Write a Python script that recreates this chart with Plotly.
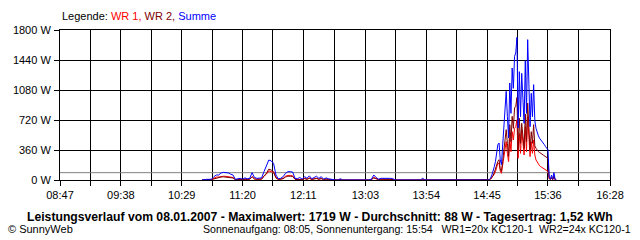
import plotly.graph_objects as go

# ---------------- data ----------------
times = [
    "10:46","10:48","10:50","10:52","10:54","10:56","10:58","11:00","11:02","11:04",
    "11:06","11:08","11:10","11:12","11:14","11:16","11:18","11:20","11:22","11:24",
    "11:26","11:28","11:30","11:32","11:34","11:36","11:38","11:40","11:42","11:44",
    "11:46","11:48","11:50","11:52","11:54","11:56","11:58","12:00","12:02","12:04",
    "12:06","12:08","12:10","12:12","12:14","12:16","12:18","12:20","12:22","12:24",
    "12:26","12:28","12:30","12:32","12:34","12:36","12:38","12:40","12:42","12:44",
    "13:06","13:08","13:10","13:12","13:14","13:16","13:18","13:20","13:22","13:24",
    "13:26","13:28","13:49","13:51","13:53",
    "14:45","14:46","14:47","14:48","14:49","14:50","14:51","14:52","14:53","14:54",
    "14:55","14:56","14:57","14:58","14:59","15:00","15:01","15:02","15:03","15:04",
    "15:05","15:06","15:07","15:08","15:09","15:10","15:11","15:12","15:13","15:14",
    "15:15","15:16","15:17","15:18","15:19","15:20","15:21","15:22","15:23","15:24",
    "15:25","15:26","15:27","15:28","15:29","15:30","15:31","15:32","15:33","15:34",
    "15:35","15:36","15:37","15:38","15:39","15:40","15:41","15:42","15:43",
]

wr1 = [
    0,4,4,4,5,25,35,36,45,45,
    44,42,38,30,4,8,10,5,12,8,
    10,40,15,10,10,12,50,70,110,100,
    90,30,8,10,20,45,55,55,50,10,
    8,15,5,20,10,25,8,15,22,10,
    20,5,12,8,4,5,0,0,8,0,
    0,5,32,15,5,10,10,12,10,10,
    8,0,0,10,0,
    0,0,5,12,30,50,70,100,150,200,
    200,110,80,180,260,400,460,320,220,500,
    340,580,480,620,640,722,260,560,320,600,
    440,300,640,340,760,440,280,460,320,480,
    300,240,210,190,170,160,150,140,134,124,
    116,104,20,5,30,5,40,4,0,
]

wr2 = [
    0,4,4,4,5,15,25,28,36,38,
    36,34,30,24,4,6,8,5,10,6,
    8,40,12,8,8,10,45,80,130,120,
    100,25,6,8,16,35,45,45,42,8,
    6,12,4,16,8,20,6,12,18,8,
    16,4,10,6,4,4,0,0,6,0,
    0,4,24,12,4,8,8,10,8,8,
    6,0,0,8,0,
    0,0,5,12,30,54,90,124,180,224,
    244,134,104,220,364,544,604,440,284,664,
    460,764,620,864,884,990,364,740,440,680,
    560,380,790,460,924,560,360,580,440,664,
    410,380,354,340,330,324,310,300,290,276,
    264,260,20,5,30,5,48,4,0,
]

summe = [
    0,8,8,8,10,40,60,60,85,92,
    90,85,70,60,8,15,20,10,25,15,
    20,88,30,20,20,25,100,160,240,230,
    200,60,15,20,40,80,100,100,95,20,
    15,30,10,40,20,50,15,30,45,20,
    40,10,25,15,8,10,0,0,15,0,
    0,10,60,30,10,20,20,25,20,20,
    15,0,0,20,0,
    0,0,10,24,60,104,160,224,330,424,
    444,244,184,400,624,944,1064,760,504,1164,
    800,1344,1100,1484,1524,1712,624,1300,760,1280,
    1000,680,1430,800,1684,1000,640,1040,760,1144,
    710,620,564,530,500,484,460,440,424,400,
    380,364,40,10,60,10,88,8,0,
]

x_tick_labels = ["08:47","09:38","10:29","11:20","12:11","13:03","13:54","14:45","15:36","16:28"]
y_tick_values = [0, 360, 720, 1080, 1440, 1800]
avg_w = 88

legend_html = ('Legende: <span style="color:#ff0000">WR 1,</span> '
               '<span style="color:#800000">WR 2,</span> '
               '<span style="color:#0000ff">Summe</span>')
title_text = ("Leistungsverlauf vom 08.01.2007 - Maximalwert: 1719 W - "
              "Durchschnitt: 88 W - Tagesertrag: 1,52 kWh")
left_footer = "© SunnyWeb"
right_footer = ("Sonnenaufgang: 08:05, Sonnenuntergang: 15:54   "
                "WR1=20x KC120-1  WR2=24x KC120-1")


def to_min(s):
    h, m = s.split(":")
    return int(h) * 60 + int(m)


x = [to_min(t) for t in times]
major = [to_min(t) for t in x_tick_labels]
tickvals, ticktext = [], []
for i, v in enumerate(major):
    tickvals.append(v)
    ticktext.append(x_tick_labels[i])
    if i < len(major) - 1:
        tickvals.append((v + major[i + 1]) / 2)
        ticktext.append("")

FONT = "Liberation Sans, Arial, sans-serif"

fig = go.Figure()
fig.add_trace(go.Scatter(x=[major[0], major[-1]], y=[avg_w, avg_w], mode="lines",
                         line=dict(color="#808080", width=1), hoverinfo="skip"))
fig.add_trace(go.Scatter(x=x, y=wr1, mode="lines", line=dict(color="#ff0000", width=1)))
fig.add_trace(go.Scatter(x=x, y=wr2, mode="lines", line=dict(color="#800000", width=1)))
fig.add_trace(go.Scatter(x=x, y=summe, mode="lines", line=dict(color="#0000ff", width=1)))

fig.update_layout(
    width=640, height=240,
    margin=dict(l=60, r=30, t=30, b=60),
    paper_bgcolor="white", plot_bgcolor="white",
    showlegend=False,
    font=dict(family=FONT, size=11, color="black"),
)
fig.update_xaxes(
    range=[major[0], major[-1]],
    tickmode="array", tickvals=tickvals, ticktext=ticktext,
    showgrid=True, gridcolor="black", gridwidth=1,
    showline=True, linecolor="black", linewidth=1, mirror=True,
    ticks="outside", ticklen=5, tickcolor="black", tickwidth=1,
    zeroline=False, tickfont=dict(family=FONT, size=11),
)
fig.update_yaxes(
    range=[0, 1800],
    tickmode="array", tickvals=y_tick_values,
    ticktext=[f"{v} W" for v in y_tick_values],
    showgrid=True, gridcolor="black", gridwidth=1,
    showline=True, linecolor="black", linewidth=1, mirror=True,
    ticks="outside", ticklen=5, tickcolor="black", tickwidth=1,
    zeroline=False, tickfont=dict(family=FONT, size=11),
    ticklabelstandoff=1,
)

fig.add_annotation(text=legend_html, xref="paper", yref="paper", x=0, y=1.09,
                   xanchor="left", yanchor="middle", showarrow=False,
                   font=dict(family=FONT, size=11, color="black"))
fig.add_annotation(text="<b>" + title_text + "</b>", xref="paper", yref="paper",
                   x=0.4736, y=-0.245, xanchor="center", yanchor="middle", showarrow=False,
                   font=dict(family=FONT, size=12.2, color="black"))
fig.add_annotation(text=left_footer, xref="paper", yref="paper", x=-0.098, y=-0.327,
                   xanchor="left", yanchor="middle", showarrow=False,
                   font=dict(family=FONT, size=11, color="black"))
fig.add_annotation(text=right_footer, xref="paper", yref="paper", x=1.0418, y=-0.327,
                   xanchor="right", yanchor="middle", showarrow=False,
                   font=dict(family=FONT, size=10.6, color="black"))

fig.write_html("out.html", config={"displayModeBar": False})
